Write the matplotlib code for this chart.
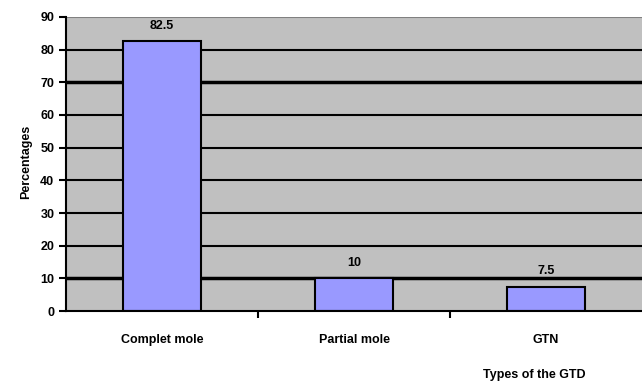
import matplotlib.pyplot as plt
import numpy as np

categories = ['Complet mole', 'Partial mole', 'GTN']
percentages = [82.5, 10, 7.5]
value_labels = ['82.5', '10', '7.5']
yticks = [0, 10, 20, 30, 40, 50, 60, 70, 80, 90]

plt.rcParams['font.family'] = ['Liberation Sans', 'DejaVu Sans']

fig = plt.figure(figsize=(6.42, 3.85), dpi=100)
ax = fig.add_axes([0.103, 0.192, 0.897, 0.764])
ax.set_facecolor('#c0c0c0')

x = np.arange(len(categories))
bars = ax.bar(x, percentages, width=0.41, color='#9999ff', edgecolor='black', linewidth=1.5, zorder=3)

# gridlines
for t in yticks[1:]:
    lw = 2.5 if t in (10, 70) else 1.5
    col = '#808080' if t == 90 else 'black'
    ax.axhline(t, color=col, linewidth=lw, zorder=1)

for b, lab in zip(bars, value_labels):
    ax.text(b.get_x() + b.get_width() / 2, b.get_height() + 3, lab,
            ha='center', va='bottom', fontsize=9, fontweight='bold')

ax.set_xlim(-0.5, 2.5)
ax.set_ylim(0, 90)
ax.set_yticks(yticks)
ax.set_yticklabels([str(t) for t in yticks], fontsize=9, fontweight='bold')
ax.set_xticks([0.5, 1.5])
ax.set_xticklabels([])
ax.tick_params(axis='x', direction='out', length=5, width=1.5)
ax.tick_params(axis='y', direction='out', length=5, width=1.5)
for i, c in enumerate(categories):
    ax.text(i, -9, c, ha='center', va='center', fontsize=9, fontweight='bold')

for s in ['top', 'right']:
    ax.spines[s].set_visible(False)
ax.spines['left'].set_linewidth(1.5)
ax.spines['bottom'].set_linewidth(1.5)
ax.spines['bottom'].set_zorder(4)

fig.text(0.833, 0.025, 'Types of the GTD', ha='center', va='center', fontsize=9, fontweight='bold')
fig.text(0.04, 0.58, 'Percentages', ha='center', va='center', rotation=90, fontsize=9, fontweight='bold')

fig.savefig('out.png', dpi=100)
